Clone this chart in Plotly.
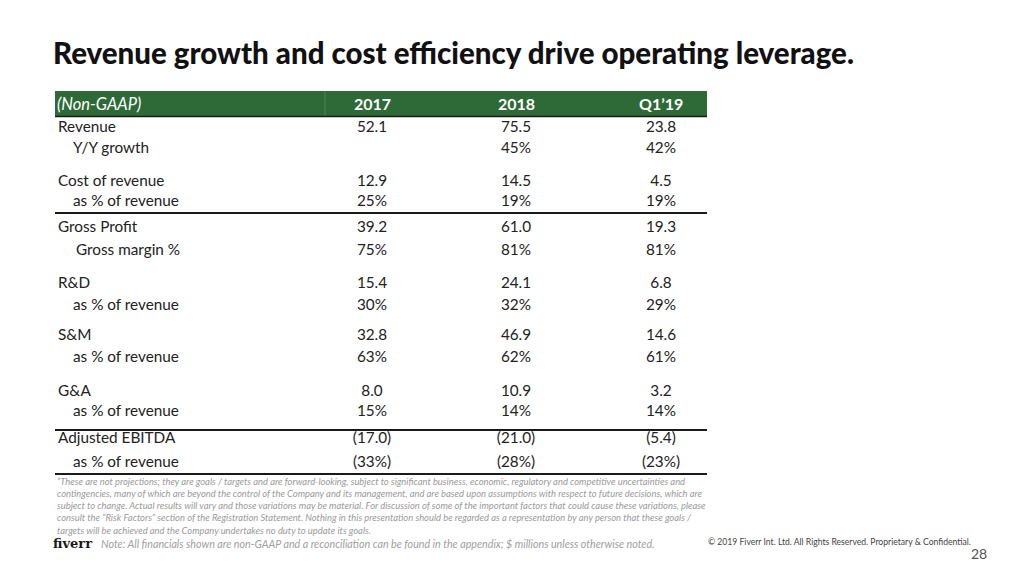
import plotly.graph_objects as go

# tabela do slide (valores em $ milhoes, non-GAAP)
columns = ['2017', '2018', 'Q1\u201919']
labels = ['Revenue', 'Y/Y growth', 'Cost of revenue', 'as % of revenue',
          'Gross Profit', 'Gross margin %', 'R&D', 'as % of revenue',
          'S&M', 'as % of revenue', 'G&A', 'as % of revenue',
          'Adjusted EBITDA', 'as % of revenue']
indent = [0, 1, 0, 1, 0, 2, 0, 1, 0, 1, 0, 1, 0, 1]
col_2017 = ['52.1', '', '12.9', '25%', '39.2', '75%', '15.4', '30%',
            '32.8', '63%', '8.0', '15%', '(17.0)', '(33%)']
col_2018 = ['75.5', '45%', '14.5', '19%', '61.0', '81%', '24.1', '32%',
            '46.9', '62%', '10.9', '14%', '(21.0)', '(28%)']
col_q119 = ['23.8', '42%', '4.5', '19%', '19.3', '81%', '6.8', '29%',
            '14.6', '61%', '3.2', '14%', '(5.4)', '(23%)']

# posicoes (pixels da pagina)
row_y = [128, 149, 182, 202, 228, 251, 284, 306, 336, 358, 392, 412, 439, 463]
col_x = [372, 516, 661]
label_x = [58, 73, 76]

title = 'Revenue growth and cost efficiency drive operating leverage.'
disclaimer = [
    '\u201cThese are not projections; they are goals / targets and are forward-looking, subject to significant business, economic, regulatory and competitive uncertainties and',
    'contingencies, many of which are beyond the control of the Company and its management, and are based upon assumptions with respect to future decisions, which are',
    'subject to change. Actual results will vary and those variations may be material. For discussion of some of the important factors that could cause these variations, please',
    'consult the \u201cRisk Factors\u201d section of the Registration Statement. Nothing in this presentation should be regarded as a representation by any person that these goals /',
    'targets will be achieved and the Company undertakes no duty to update its goals.',
]
note = 'Note: All financials shown are non-GAAP and a reconciliation can be found in the appendix; $ millions unless otherwise noted.'
copyright_txt = '\u00a9 2019 Fiverr Int. Ltd. All Rights Reserved. Proprietary & Confidential.'

FONT = 'Lato'
GREEN = '#2e6a38'
TXT = '#222222'

fig = go.Figure()

# rotulos das linhas
fig.add_trace(go.Scatter(
    x=[label_x[i] for i in indent], y=row_y, text=labels, mode='text',
    textposition='middle right', textfont=dict(family=FONT, size=15.3, color=TXT),
    hoverinfo='skip', showlegend=False))

# valores por coluna
for cx, vals in zip(col_x, [col_2017, col_2018, col_q119]):
    fig.add_trace(go.Scatter(
        x=[cx] * len(vals), y=row_y, text=vals, mode='text',
        textposition='middle center', textfont=dict(family=FONT, size=15.3, color=TXT),
        hoverinfo='skip', showlegend=False))

shapes = []
# cabecalho verde
shapes.append(dict(type='rect', x0=55, x1=707, y0=91, y1=116, fillcolor=GREEN,
                   line=dict(width=0), layer='below'))
shapes.append(dict(type='line', x0=325, x1=325, y0=91, y1=116,
                   line=dict(color='#4f8357', width=1)))
for yy, w in [(116.5, 1.5), (213, 2), (430, 2), (474, 2)]:
    shapes.append(dict(type='line', x0=55, x1=707, y0=yy, y1=yy,
                       line=dict(color='#1a1a1a', width=w)))

annotations = [
    dict(x=51, y=52, text=title, showarrow=False, xanchor='left',
         yanchor='middle', font=dict(family=FONT, size=29.5, color='#111111', weight=900)),
    dict(x=55, y=103.5, text='<i>(Non-GAAP)</i>', showarrow=False, xanchor='left',
         yanchor='middle', font=dict(family=FONT, size=16.5, color='white')),
]
for cx, c in zip(col_x, columns):
    annotations.append(dict(x=cx, y=103.5, text='<b>' + c + '</b>', showarrow=False,
                            xanchor='center', yanchor='middle',
                            font=dict(family=FONT, size=16, color='white')))
for i, line in enumerate(disclaimer):
    annotations.append(dict(x=55, y=481 + i * 12.3, text='<i>' + line + '</i>',
                            showarrow=False, xanchor='left', yanchor='middle',
                            font=dict(family=FONT, size=9.4, color='#9a9a9a')))
annotations += [
    dict(x=51, y=543, text='<b>fiverr</b>', showarrow=False, xanchor='left', yanchor='middle',
         font=dict(family='DejaVu Serif', size=13, color='#1a1a1a')),
    dict(x=99, y=543, text='<i>' + note + '</i>', showarrow=False, xanchor='left',
         yanchor='middle', font=dict(family=FONT, size=10.7, color='#a0a0a0')),
    dict(x=706, y=542, text=copyright_txt, showarrow=False, xanchor='left',
         yanchor='middle', font=dict(family=FONT, size=8.6, color='#444444')),
    dict(x=989, y=553, text='28', showarrow=False, xanchor='right', yanchor='middle',
         font=dict(family=FONT, size=14, color='#555555')),
]

# a pagina tem 8px de margem no body: figura menor e eixos em pixels da pagina
fig.update_layout(
    width=1016, height=568, margin=dict(l=0, r=0, t=0, b=0),
    paper_bgcolor='white', plot_bgcolor='white',
    xaxis=dict(range=[8, 1024], visible=False, fixedrange=True),
    yaxis=dict(range=[576, 8], visible=False, fixedrange=True),
    shapes=shapes, annotations=annotations,
)

fig.write_html('out.html')
